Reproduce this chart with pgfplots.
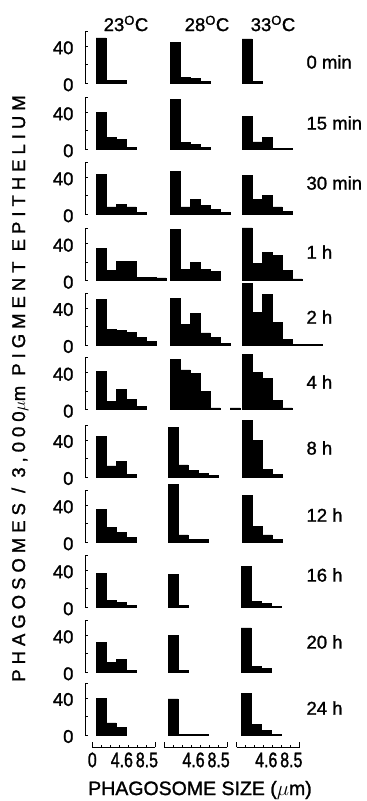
\documentclass[border=0pt]{standalone}
\usepackage{fontspec}
\setmainfont{Liberation Sans}[FakeBold=1.3]
\usepackage{pgfplots}
\pgfplotsset{compat=1.18}
\newcommand{\fs}{\fontsize{18.5}{20}\selectfont}
\newcommand{\fst}{\fontsize{21}{22}\selectfont\addfontfeatures{FakeStretch=0.76}}
\pgfplotsset{
 panel/.style={scale only axis, width=81pt, height=51.8pt, xmin=-1.1, xmax=7, ymin=0, ymax=56, clip=false, anchor=south west},
 noax/.style={hide axis},
 yaxis/.style={hide x axis, axis y line*=left, y axis line style={-, line width=0.9pt},
   ytick={0,20,40,56}, yticklabels={0,,40,}, tick align=inside, major tick length=3pt,
   tick style={line width=0.9pt, black}, yticklabel style={font=\fs, xshift=-8pt, yshift=-1.5pt},
   /pgf/number format/assume math mode=true},
 hist/.style={fill=black, draw=black, line width=0.7pt, const plot mark left},
 scalebar/.style={scale only axis, width=63pt, height=5pt, xmin=0, xmax=9.8, ymin=0, ymax=1,
   hide y axis, axis x line*=bottom, x axis line style={-, line width=0.9pt}, anchor=south west,
   major tick length=0pt, minor xtick={1.4,2.8,4.2,5.6,7,8.4}, minor tick length=2.5pt,
   extra x ticks={0,9.8}, extra x tick labels={,}, extra x tick style={major tick length=5pt},
   tick align=inside, tick style={line width=0.8pt, black}, font=\fst,
   xticklabel style={font=\fst, inner sep=1pt, yshift=-4pt},
   /pgf/number format/assume math mode=true}
}
\newcommand{\panel}[4]{\begin{axis}[panel, at={(#1pt-11pt,-#2pt)}, #3]
\addplot[hist] coordinates {#4} \closedcycle;
\end{axis}}
\begin{document}
\begin{tikzpicture}
\useasboundingbox (0pt,0pt) rectangle (367pt,-801pt);
% row 0: 0 min
\panel{96}{83.3}{yaxis}{(0,49)(1,3)(2,3)(3,3)}
\panel{170}{83.3}{noax}{(0,44)(1,6)(2,5)(3,2)(4,2)}
\panel{242}{83.3}{noax}{(0,48)(1,2)(2,2)}
% row 1: 15 min
\panel{96}{149.3}{yaxis}{(0,40)(1,13)(2,11)(3,2)(4,2)}
\panel{170}{149.3}{noax}{(0,54)(1,7)(2,5)(3,2)(4,2)}
\panel{242}{149.3}{noax}{(0,36)(1,8)(2,13)(3,1)(4,1)(5,1)}
% row 2: 30 min
\panel{96}{214.3}{yaxis}{(0,43)(1,8)(2,11)(3,8)(4,2)(5,2)}
\panel{170}{214.3}{noax}{(0,46)(1,8)(2,16)(3,10)(4,5)(5,2)(6,2)}
\panel{242}{214.3}{noax}{(0,42)(1,16)(2,20)(3,8)(4,3)(5,3)}
% row 3: 1 h
\panel{96}{280.7}{yaxis}{(0,35)(1,11)(2,21)(3,21)(4,4)(5,4)(6,3)(7,3)}
\panel{170}{280.7}{noax}{(0,55)(1,12)(2,20)(3,12)(4,10)(5,10)}
\panel{242}{280.7}{noax}{(0,57)(1,19)(2,31)(3,27)(4,11)(5,2)(6,2)}
% row 4: 2 h
\panel{96}{345}{yaxis}{(0,49)(1,17)(2,16)(3,14)(4,8)(5,4)(6,4)}
\panel{170}{345}{noax}{(0,50)(1,22)(2,34)(3,13)(4,8)(5,2)(6,2)}
\panel{242}{345}{noax}{(0,67)(1,35)(2,55)(3,24)(4,6)(5,1)(6,1)(7,1)(8,1)}
% row 5: 4 h
\panel{96}{409.7}{yaxis}{(0,41)(1,9)(2,22)(3,11)(4,4)(5,4)}
\begin{axis}[panel, noax, at={(170pt-11pt,-409.7pt)}]
\addplot[hist] coordinates {(0,54)(1,43)(2,39)(3,20)(4,2)(5,2)} \closedcycle;
\addplot[hist] coordinates {(6,2)(7,2)} \closedcycle;
\end{axis}
\panel{242}{409.7}{noax}{(0,60)(1,40)(2,34)(3,10)(4,2)(5,2)}
% row 6: 8 h
\panel{96}{477}{yaxis}{(0,44)(1,12)(2,17)(3,3)(4,3)}
\panel{168}{477}{noax}{(0,54)(1,13)(2,7)(3,4)(4,2)(5,2)}
\panel{242}{477}{noax}{(0,61)(1,40)(2,8)(3,3)(4,3)}
% row 7: 12 h
\panel{96}{542.3}{yaxis}{(0,36)(1,16)(2,11)(3,5)(4,5)}
\panel{168}{542.3}{noax}{(0,63)(1,8)(2,3)(3,3)(4,3)}
\panel{242}{542.3}{noax}{(0,51)(1,17)(2,8)(3,3)(4,3)}
% row 8: 16 h
\panel{96}{607.3}{yaxis}{(0,37)(1,7)(2,5)(3,2)(4,2)}
\panel{168}{607.3}{noax}{(0,36)(1,2)(2,2)}
\panel{241}{607.3}{noax}{(0,44)(1,6)(2,4)(3,1)(4,1)}
% row 9: 20 h
\panel{96}{672.3}{yaxis}{(0,32)(1,11)(2,14)(3,2)(4,2)}
\panel{168}{672.3}{noax}{(0,40)(1,2)(2,2)}
\panel{241}{672.3}{noax}{(0,48)(1,6)(2,4)(3,4)}
% row 10: 24 h
\panel{96}{735}{yaxis}{(0,40)(1,13)(2,8)(3,8)}
\panel{168}{735}{noax}{(0,39)(1,1)(2,1)(3,1)(4,1)}
\panel{241}{735}{noax}{(0,45)(1,11)(2,5)(3,1)(4,1)}
% bottom size scales
\begin{axis}[scalebar, at={(92.3pt,-747.3pt)}, xtick={0,4.6,8.5}, xticklabels={0,4.6,8.5}]
\addplot[draw=none] coordinates {(0,0)};
\end{axis}
\begin{axis}[scalebar, at={(164pt,-747.3pt)}, xtick={4.6,8.5}, xticklabels={4.6,8.5}]
\addplot[draw=none] coordinates {(0,0)};
\end{axis}
\begin{axis}[scalebar, at={(236.7pt,-747.3pt)}, xtick={4.6,8.5}, xticklabels={4.6,8.5}]
\addplot[draw=none] coordinates {(0,0)};
\end{axis}
% column titles
\node[font=\fs] at (126pt,-23.5pt) {23\textsuperscript{O}C};
\node[font=\fs] at (207pt,-23.5pt) {28\textsuperscript{O}C};
\node[font=\fs] at (273pt,-23.5pt) {33\textsuperscript{O}C};
% row labels
\node[font=\fs, anchor=west] at (303pt,-62pt) {0 min};
\node[font=\fs, anchor=west] at (303pt,-123pt) {15 min};
\node[font=\fs, anchor=west] at (303pt,-183pt) {30 min};
\node[font=\fs, anchor=west] at (303pt,-252pt) {1 h};
\node[font=\fs, anchor=west] at (303pt,-317pt) {2 h};
\node[font=\fs, anchor=west] at (303pt,-382pt) {4 h};
\node[font=\fs, anchor=west] at (303pt,-448pt) {8 h};
\node[font=\fs, anchor=west] at (303pt,-515pt) {12 h};
\node[font=\fs, anchor=west] at (303pt,-575pt) {16 h};
\node[font=\fs, anchor=west] at (303pt,-642pt) {20 h};
\node[font=\fs, anchor=west] at (303pt,-708pt) {24 h};
% axis titles
\node[rotate=90, font=\fs\addfontfeatures{LetterSpace=27}] at (20pt,-388.5pt) {PHAGOSOMES / 3,000$\mu$m PIGMENT EPITHELIUM};
\node[font=\fontsize{19.5}{21}\selectfont] at (200pt,-790pt) {PHAGOSOME SIZE ($\mu$m)};
\end{tikzpicture}
\end{document}
